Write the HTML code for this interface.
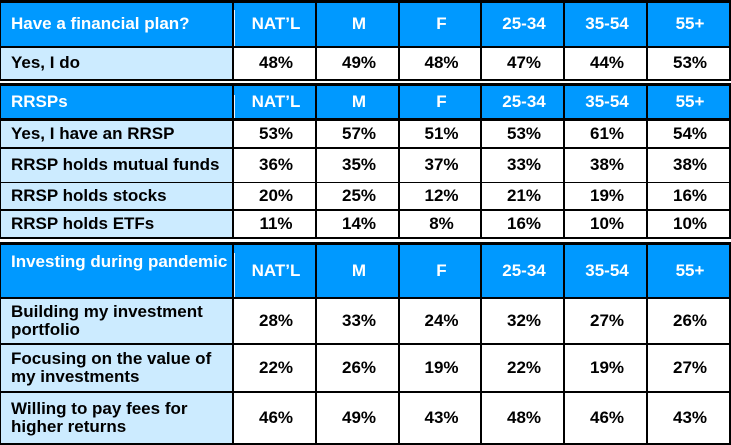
<!DOCTYPE html>
<html>
<head>
<meta charset="utf-8">
<style>
  html,body{margin:0;padding:0;background:#fff;}
  body{width:731px;height:445px;position:relative;overflow:hidden;
       font-family:"Liberation Sans",Arial,sans-serif;font-weight:bold;font-size:17px;}
  .sec{position:absolute;left:0;width:731px;background:#000;}
  .c{position:absolute;display:flex;align-items:center;box-sizing:border-box;white-space:nowrap;line-height:18.5px;}
  .h{background:#0099ff;color:#fff;}
  .l{background:#ccebff;color:#000;padding-left:10px;}
  .n{background:#fff;color:#000;justify-content:center;padding-left:3px;}
  .hn{justify-content:center;padding-left:3px;}
  .hl{padding-left:10px;}
  .wl{position:absolute;width:1px;background:#e8f4ff;}
</style>
</head>
<body>

<!-- Section 1 -->
<div class="sec" style="top:0;height:81px;"></div>
<div class="c h hl" style="left:1px;top:3px;width:231px;height:43px;">Have a financial plan?</div>
<div class="c h hn" style="left:234px;top:3px;width:81px;height:43px;">NAT’L</div>
<div class="c h hn" style="left:317px;top:3px;width:81px;height:43px;">M</div>
<div class="c h hn" style="left:400px;top:3px;width:80px;height:43px;">F</div>
<div class="c h hn" style="left:482px;top:3px;width:81px;height:43px;">25-34</div>
<div class="c h hn" style="left:565px;top:3px;width:81px;height:43px;">35-54</div>
<div class="c h hn" style="left:648px;top:3px;width:81px;height:43px;">55+</div>
<div class="wl" style="left:234px;top:10px;height:36px;"></div>

<div class="c l" style="left:1px;top:48px;width:231px;height:31px;">Yes, I do</div>
<div class="c n" style="left:234px;top:48px;width:81px;height:31px;">48%</div>
<div class="c n" style="left:317px;top:48px;width:81px;height:31px;">49%</div>
<div class="c n" style="left:400px;top:48px;width:80px;height:31px;">48%</div>
<div class="c n" style="left:482px;top:48px;width:81px;height:31px;">47%</div>
<div class="c n" style="left:565px;top:48px;width:81px;height:31px;">44%</div>
<div class="c n" style="left:648px;top:48px;width:81px;height:31px;">53%</div>

<!-- Section 2 -->
<div class="sec" style="top:83px;height:156px;"></div>
<div class="c h hl" style="left:1px;top:86px;width:231px;height:32px;">RRSPs</div>
<div class="c h hn" style="left:234px;top:86px;width:81px;height:32px;">NAT’L</div>
<div class="c h hn" style="left:317px;top:86px;width:81px;height:32px;">M</div>
<div class="c h hn" style="left:400px;top:86px;width:80px;height:32px;">F</div>
<div class="c h hn" style="left:482px;top:86px;width:81px;height:32px;">25-34</div>
<div class="c h hn" style="left:565px;top:86px;width:81px;height:32px;">35-54</div>
<div class="c h hn" style="left:648px;top:86px;width:81px;height:32px;">55+</div>
<div class="wl" style="left:234px;top:95px;height:23px;"></div>

<div class="c l" style="left:1px;top:121px;width:231px;height:26px;">Yes, I have an RRSP</div>
<div class="c n" style="left:234px;top:121px;width:81px;height:26px;">53%</div>
<div class="c n" style="left:317px;top:121px;width:81px;height:26px;">57%</div>
<div class="c n" style="left:400px;top:121px;width:80px;height:26px;">51%</div>
<div class="c n" style="left:482px;top:121px;width:81px;height:26px;">53%</div>
<div class="c n" style="left:565px;top:121px;width:81px;height:26px;">61%</div>
<div class="c n" style="left:648px;top:121px;width:81px;height:26px;">54%</div>

<div class="c l" style="left:1px;top:149px;width:231px;height:33px;">RRSP holds mutual funds</div>
<div class="c n" style="left:234px;top:149px;width:81px;height:33px;">36%</div>
<div class="c n" style="left:317px;top:149px;width:81px;height:33px;">35%</div>
<div class="c n" style="left:400px;top:149px;width:80px;height:33px;">37%</div>
<div class="c n" style="left:482px;top:149px;width:81px;height:33px;">33%</div>
<div class="c n" style="left:565px;top:149px;width:81px;height:33px;">38%</div>
<div class="c n" style="left:648px;top:149px;width:81px;height:33px;">38%</div>

<div class="c l" style="left:1px;top:183px;width:231px;height:26px;">RRSP holds stocks</div>
<div class="c n" style="left:234px;top:183px;width:81px;height:26px;">20%</div>
<div class="c n" style="left:317px;top:183px;width:81px;height:26px;">25%</div>
<div class="c n" style="left:400px;top:183px;width:80px;height:26px;">12%</div>
<div class="c n" style="left:482px;top:183px;width:81px;height:26px;">21%</div>
<div class="c n" style="left:565px;top:183px;width:81px;height:26px;">19%</div>
<div class="c n" style="left:648px;top:183px;width:81px;height:26px;">16%</div>

<div class="c l" style="left:1px;top:211px;width:231px;height:26px;">RRSP holds ETFs</div>
<div class="c n" style="left:234px;top:211px;width:81px;height:26px;">11%</div>
<div class="c n" style="left:317px;top:211px;width:81px;height:26px;">14%</div>
<div class="c n" style="left:400px;top:211px;width:80px;height:26px;">8%</div>
<div class="c n" style="left:482px;top:211px;width:81px;height:26px;">16%</div>
<div class="c n" style="left:565px;top:211px;width:81px;height:26px;">10%</div>
<div class="c n" style="left:648px;top:211px;width:81px;height:26px;">10%</div>

<!-- Section 3 -->
<div class="sec" style="top:242px;height:203px;"></div>
<div class="c h hl" style="left:1px;top:245px;width:231px;height:52px;align-items:flex-start;padding-top:8px;">Investing during pandemic</div>
<div class="c h hn" style="left:234px;top:245px;width:81px;height:52px;">NAT’L</div>
<div class="c h hn" style="left:317px;top:245px;width:81px;height:52px;">M</div>
<div class="c h hn" style="left:400px;top:245px;width:80px;height:52px;">F</div>
<div class="c h hn" style="left:482px;top:245px;width:81px;height:52px;">25-34</div>
<div class="c h hn" style="left:565px;top:245px;width:81px;height:52px;">35-54</div>
<div class="c h hn" style="left:648px;top:245px;width:81px;height:52px;">55+</div>
<div class="wl" style="left:234px;top:253px;height:44px;"></div>

<div class="c l" style="left:1px;top:299px;width:231px;height:44px;">Building my investment<br>portfolio</div>
<div class="c n" style="left:234px;top:299px;width:81px;height:44px;">28%</div>
<div class="c n" style="left:317px;top:299px;width:81px;height:44px;">33%</div>
<div class="c n" style="left:400px;top:299px;width:80px;height:44px;">24%</div>
<div class="c n" style="left:482px;top:299px;width:81px;height:44px;">32%</div>
<div class="c n" style="left:565px;top:299px;width:81px;height:44px;">27%</div>
<div class="c n" style="left:648px;top:299px;width:81px;height:44px;">26%</div>

<div class="c l" style="left:1px;top:345px;width:231px;height:46px;">Focusing on the value of<br>my investments</div>
<div class="c n" style="left:234px;top:345px;width:81px;height:46px;">22%</div>
<div class="c n" style="left:317px;top:345px;width:81px;height:46px;">26%</div>
<div class="c n" style="left:400px;top:345px;width:80px;height:46px;">19%</div>
<div class="c n" style="left:482px;top:345px;width:81px;height:46px;">22%</div>
<div class="c n" style="left:565px;top:345px;width:81px;height:46px;">19%</div>
<div class="c n" style="left:648px;top:345px;width:81px;height:46px;">27%</div>

<div class="c l" style="left:1px;top:393px;width:231px;height:50px;">Willing to pay fees for<br>higher returns</div>
<div class="c n" style="left:234px;top:393px;width:81px;height:50px;">46%</div>
<div class="c n" style="left:317px;top:393px;width:81px;height:50px;">49%</div>
<div class="c n" style="left:400px;top:393px;width:80px;height:50px;">43%</div>
<div class="c n" style="left:482px;top:393px;width:81px;height:50px;">48%</div>
<div class="c n" style="left:565px;top:393px;width:81px;height:50px;">46%</div>
<div class="c n" style="left:648px;top:393px;width:81px;height:50px;">43%</div>

</body>
</html>
